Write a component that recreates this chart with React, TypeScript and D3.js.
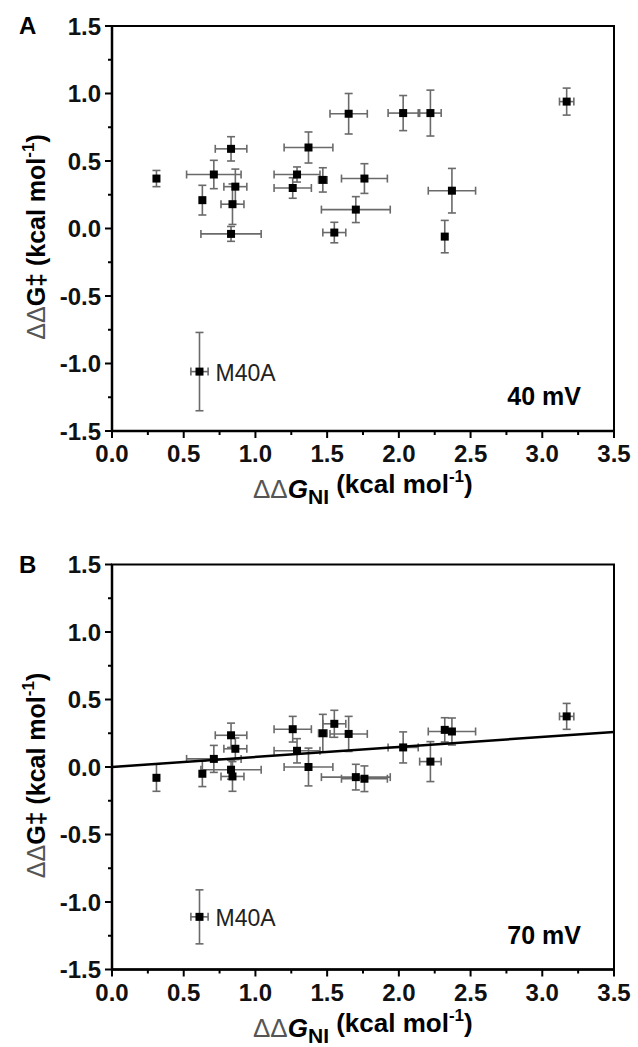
import * as d3 from 'd3';

// shared x values (ΔΔG_NI) and their errors, one per mutant
const ddGNI = [0.31, 0.61, 0.63, 0.71, 0.83, 0.86, 0.84, 0.83, 1.26, 1.29, 1.37, 1.47, 1.55, 1.65, 1.70, 1.76, 2.03, 2.22, 2.32, 2.37, 3.17];
const ddGNIErr = [0, 0.06, 0, 0.19, 0.11, 0.08, 0.08, 0.21, 0.13, 0.16, 0.17, 0.03, 0.08, 0.13, 0.24, 0.16, 0.105, 0.075, 0, 0.165, 0.05];

// panel A, 40 mV
const ddGA = [0.37, -1.06, 0.21, 0.40, 0.59, 0.31, 0.18, -0.04, 0.30, 0.40, 0.60, 0.36, -0.03, 0.85, 0.14, 0.37, 0.855, 0.855, -0.06, 0.28, 0.94];
const ddGAErr = [0.06, 0.29, 0.11, 0.105, 0.09, 0.13, 0.15, 0.055, 0.076, 0.056, 0.115, 0.09, 0.076, 0.15, 0.096, 0.11, 0.13, 0.17, 0.12, 0.165, 0.10];

// panel B, 70 mV
const ddGB = [-0.08, -1.11, -0.05, 0.06, 0.235, 0.135, -0.07, -0.02, 0.28, 0.12, 0.0, 0.25, 0.32, 0.245, -0.075, -0.087, 0.145, 0.04, 0.275, 0.263, 0.375];
const ddGBErr = [0.10, 0.20, 0.095, 0.10, 0.09, 0.08, 0.11, 0.07, 0.095, 0.09, 0.14, 0.14, 0.10, 0.13, 0.095, 0.095, 0.115, 0.148, 0.09, 0.10, 0.096];

const fitX = [0, 3.5];
const fitYB = [0, 0.26];

const labelIdx = 1; // M40A
const xTicks = [0, 0.5, 1, 1.5, 2, 2.5, 3, 3.5];
const yTicks = [-1.5, -1, -0.5, 0, 0.5, 1, 1.5];

const FONT = '"Liberation Sans", Arial, sans-serif';
const LEFT = 112;
const RIGHT = 614;
const H = 405;

function Panel({ top, letter, ys, yErr, mv, fit }: any) {
  const x = d3.scaleLinear().domain([0, 3.5]).range([LEFT, RIGHT]);
  const y = d3.scaleLinear().domain([-1.5, 1.5]).range([top + H, top]);
  const bottom = top + H;
  const minorX = d3.range(0.25, 3.5, 0.5);
  const minorY = d3.range(-1.25, 1.5, 0.5);
  const errColor = '#6a6a6a';
  const line = d3.line<number>().x((d) => x(d)).y((d, i) => y(fit ? fit[1][i] : 0));

  return (
    <g>
      <text x={19} y={top + 8} fontFamily={FONT} fontWeight="bold" fontSize={24}>{letter}</text>
      {/* error bars */}
      {ddGNI.map((xv, i) => {
        const cx = x(xv), cy = y(ys[i]);
        const y1 = y(ys[i] + yErr[i]), y2 = y(ys[i] - yErr[i]);
        const x1 = x(xv - ddGNIErr[i]), x2 = x(xv + ddGNIErr[i]);
        return (
          <g key={i} stroke={errColor} strokeWidth={1.6} fill="none">
            <line x1={cx} x2={cx} y1={y1} y2={y2} />
            <line x1={cx - 4} x2={cx + 4} y1={y1} y2={y1} />
            <line x1={cx - 4} x2={cx + 4} y1={y2} y2={y2} />
            {ddGNIErr[i] > 0 && (
              <g>
                <line x1={x1} x2={x2} y1={cy} y2={cy} />
                <line x1={x1} x2={x1} y1={cy - 4} y2={cy + 4} />
                <line x1={x2} x2={x2} y1={cy - 4} y2={cy + 4} />
              </g>
            )}
          </g>
        );
      })}
      {fit && <path d={line(fit[0]) || ''} stroke="#000" strokeWidth={2.5} fill="none" />}
      {ddGNI.map((xv, i) => (
        <rect key={i} x={x(xv) - 4} y={y(ys[i]) - 4} width={8} height={8} fill="#000" />
      ))}
      <text x={x(ddGNI[labelIdx]) + 16} y={y(ys[labelIdx]) + 9} fontFamily={FONT} fontSize={23} fill="#222">M40A</text>
      <text x={581} y={bottom - 26} textAnchor="end" fontFamily={FONT} fontWeight="bold" fontSize={25}>{mv}</text>

      {/* frame */}
      <rect x={LEFT} y={top} width={RIGHT - LEFT} height={H} fill="none" stroke="#000" strokeWidth={2} />
      <line x1={LEFT} x2={LEFT} y1={top} y2={bottom + 1} stroke="#000" strokeWidth={2.5} />
      <line x1={LEFT - 1} x2={RIGHT + 1} y1={bottom} y2={bottom} stroke="#000" strokeWidth={2.5} />

      {/* x ticks */}
      {xTicks.map((t) => (
        <g key={t}>
          <line x1={x(t)} x2={x(t)} y1={bottom} y2={bottom + 7} stroke="#000" strokeWidth={2} />
          <text x={x(t)} y={bottom + 31} textAnchor="middle" fontFamily={FONT} fontWeight="bold" fontSize={24} fill="#111">{t.toFixed(1)}</text>
        </g>
      ))}
      {minorX.map((t) => (
        <line key={t} x1={x(t)} x2={x(t)} y1={bottom} y2={bottom + 4} stroke="#000" strokeWidth={2} />
      ))}
      {/* y ticks */}
      {yTicks.map((t) => (
        <g key={t}>
          <line x1={LEFT - 7} x2={LEFT} y1={y(t)} y2={y(t)} stroke="#000" strokeWidth={2} />
          <text x={101} y={y(t) + 8.5} textAnchor="end" fontFamily={FONT} fontWeight="bold" fontSize={24} fill="#111">{t.toFixed(1)}</text>
        </g>
      ))}
      {minorY.map((t) => (
        <line key={t} x1={LEFT - 4} x2={LEFT} y1={y(t)} y2={y(t)} stroke="#000" strokeWidth={2} />
      ))}

      {/* x axis title */}
      <text x={253} y={bottom + 67} fontFamily={FONT} fontSize={26} fontWeight="bold">
        <tspan fontWeight="normal" fill="#555">ΔΔ</tspan>
        <tspan fontStyle="italic">G</tspan>
        <tspan fontSize={21} dy={6}>NI</tspan>
        <tspan dy={-11}> (kcal mol</tspan>
        <tspan fontSize={17} dy={-11}>-1</tspan>
        <tspan dy={11}>)</tspan>
      </text>
      {/* y axis title */}
      <text transform={`translate(45, ${top + 211}) rotate(-90)`} textAnchor="middle" fontFamily={FONT} fontSize={25} fontWeight="bold">
        <tspan fontWeight="normal" fill="#555">ΔΔ</tspan>
        <tspan>G‡ (kcal mol</tspan>
        <tspan fontSize={17} dy={-11}>-1</tspan>
        <tspan dy={11}>)</tspan>
      </text>
    </g>
  );
}

export default function App() {
  return (
    <svg width={638} height={1047} style={{ position: 'absolute', left: 0, top: 0, background: '#fff' }}>
      <Panel top={26} letter="A" ys={ddGA} yErr={ddGAErr} mv="40 mV" />
      <Panel top={564.5} letter="B" ys={ddGB} yErr={ddGBErr} mv="70 mV" fit={[fitX, fitYB]} />
    </svg>
  );
}
